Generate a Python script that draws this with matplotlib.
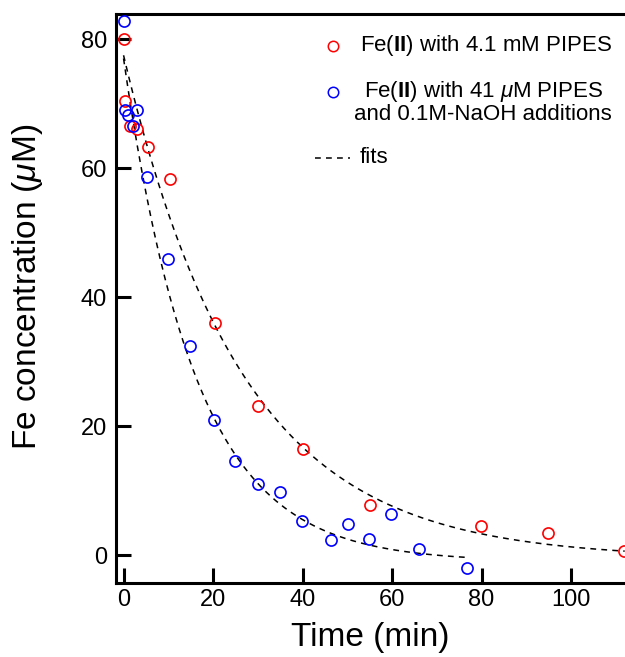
import numpy as np
import matplotlib
matplotlib.use('Agg')
import matplotlib.pyplot as plt

plt.rcParams['font.family'] = ['Liberation Sans', 'DejaVu Sans']
plt.rcParams['mathtext.fontset'] = 'custom'
plt.rcParams['mathtext.rm'] = 'Liberation Sans'
plt.rcParams['mathtext.it'] = 'Liberation Sans:italic'
plt.rcParams['mathtext.bf'] = 'Liberation Sans:bold'

# Fe(II) with 4.1 mM PIPES (red)
t_red = [0, 0.3, 1.5, 3.1, 5.5, 10.4, 20.4, 30, 40.1, 55.1, 79.9, 94.9, 111.8]
fe_red = [80, 70.4, 66.5, 66, 63.3, 58.3, 36, 23.1, 16.4, 7.75, 4.5, 3.4, 0.6]

# Fe(II) with 41 uM PIPES + NaOH additions (blue)
t_blue = [0, 0.3, 1.1, 3.1, 2.0, 5.2, 10, 14.9, 20.2, 24.9, 30, 35, 39.9,
          46.4, 50.2, 54.9, 59.8, 66, 76.8]
fe_blue = [82.8, 69, 68.2, 69, 66.5, 58.6, 45.9, 32.4, 20.9, 14.6, 11, 9.8, 5.3,
           2.3, 4.8, 2.5, 6.4, 0.9, -1.9]

# exponential fits: c + A*exp(-k t)
fit_red = dict(A=78.0, k=0.0377, c=-0.5, tmax=112)
fit_blue = dict(A=78.0, k=0.062, c=-1.0, tmax=77)

fig = plt.figure(figsize=(6.25, 6.57), dpi=100)
ax = fig.add_axes([0.1848, 0.1126, 0.8152, 0.8661])

for f in (fit_red, fit_blue):
    tt = np.linspace(0, f['tmax'], 300)
    ax.plot(tt, f['c'] + f['A'] * np.exp(-f['k'] * tt), color='black',
            lw=1.1, linestyle=(0, (3.8, 3.4)), zorder=1)

ax.plot(t_red, fe_red, 'o', mfc='none', mec='#ff0000', ms=8, mew=1.2,
        clip_on=False, zorder=3)
ax.plot(t_blue, fe_blue, 'o', mfc='none', mec='#0000ff', ms=8, mew=1.2,
        clip_on=False, zorder=3)

ax.set_xlim(-1.8, 112.07)
ax.set_ylim(-4.3, 83.9)
ax.set_xticks([0, 20, 40, 60, 80, 100])
ax.set_yticks([0, 20, 40, 60, 80])
ax.tick_params(direction='in', length=10.8, width=2.2, labelsize=17,
               top=False, right=False)
ax.tick_params(axis='x', pad=4)
ax.tick_params(axis='y', pad=6)
for s in ['left', 'bottom', 'top']:
    ax.spines[s].set_linewidth(2.2)
ax.spines['right'].set_visible(False)

ax.set_xlabel('Time (min)', fontsize=24)
ax.set_ylabel(r'Fe concentration ($\mu$M)', fontsize=24)
ax.xaxis.set_label_coords(0.5, -0.068)
ax.yaxis.set_label_coords(-0.138, 0.52)

# legend drawn by hand
tr = ax.transAxes
ax.plot([0.426], [0.944], 'o', mfc='none', mec='#ff0000', ms=7.5, mew=1.1,
        transform=tr, clip_on=False)
ax.plot([0.426], [0.863], 'o', mfc='none', mec='#0000ff', ms=7.5, mew=1.1,
        transform=tr, clip_on=False)
ax.plot([0.392, 0.460], [0.747, 0.747], color='black', lw=1.1,
        linestyle=(0, (3.8, 3.4)), transform=tr, clip_on=False)
ax.text(0.480, 0.944, r'Fe($\mathbf{II}$) with 4.1 mM PIPES', transform=tr,
        fontsize=16, va='center', ha='left')
ax.text(0.722, 0.845, 'Fe($\\mathbf{II}$) with 41 $\\mu$M PIPES\nand 0.1M-NaOH additions',
        transform=tr, fontsize=16, va='center', ha='center',
        multialignment='center', linespacing=1.0)
ax.text(0.480, 0.747, 'fits', transform=tr, fontsize=16, va='center', ha='left')

fig.savefig('out.png', dpi=100)
